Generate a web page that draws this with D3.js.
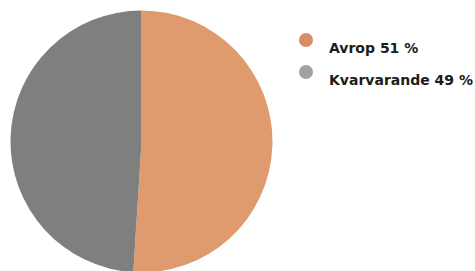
<!DOCTYPE html>
<html>
<head>
<meta charset="utf-8">
<script src="https://d3js.org/d3.v7.min.js"></script>
<style>
  html, body { margin: 0; padding: 0; background: #fff; }
  svg { display: block; }
</style>
</head>
<body>
<div class="pie-chart"></div>
<script>
// data
var labels = ["Avrop", "Kvarvarande"];
var values = [51, 49];
var sliceColors = ["#df9b6e", "#7f7f7f"];
var legendColors = ["#d88c66", "#a2a2a2"];

var width = 475, height = 271;
var radius = 131;
var cx = 141.5, cy = 141.5;

var svg = d3.select(".pie-chart").append("svg")
  .attr("width", width)
  .attr("height", height);

var pie = d3.pie().value(function (d) { return d; }).sort(null);
var arc = d3.arc().innerRadius(0).outerRadius(radius);

var g = svg.append("g").attr("transform", "translate(" + cx + "," + cy + ")");
g.selectAll("path")
  .data(pie(values))
  .enter()
  .append("path")
  .attr("d", arc)
  .attr("fill", function (d, i) { return sliceColors[i]; });

// legend
var legend = svg.append("g").attr("transform", "translate(306,40)");
var item = legend.selectAll("g")
  .data(labels)
  .enter()
  .append("g")
  .attr("transform", function (d, i) { return "translate(0," + (i * 32) + ")"; });

item.append("circle")
  .attr("r", 7)
  .attr("fill", function (d, i) { return legendColors[i]; });

item.append("text")
  .attr("x", 23)
  .attr("y", 12.5)
  .attr("font-family", "'DejaVu Sans', sans-serif")
  .attr("font-weight", "bold")
  .attr("font-size", "14px")
  .attr("fill", "#1b1b1b")
  .text(function (d, i) { return d + " " + values[i] + " %"; });
</script>
</body>
</html>
